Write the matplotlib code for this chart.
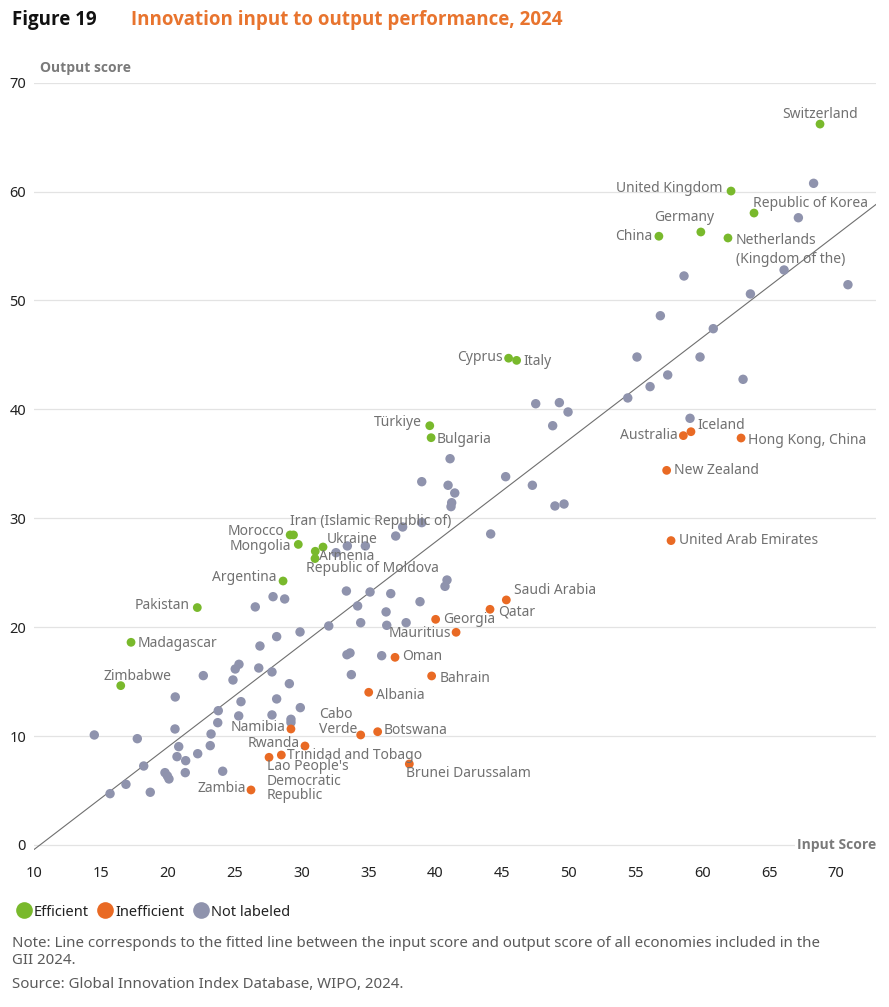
import matplotlib
matplotlib.use("Agg")
import matplotlib.pyplot as plt
from matplotlib.lines import Line2D

plt.rcParams['font.family'] = ['Noto Sans', 'DejaVu Sans']
BOLD_FAMILY = ['Open Sans', 'Lato', 'DejaVu Sans']

# ---------------- data ----------------
efficient_names = ["Switzerland", "United Kingdom", "Republic of Korea", "Germany", "China",
                   "Netherlands\n(Kingdom of the)", "Cyprus", "Italy", "Türkiye", "Bulgaria",
                   "Morocco", "Iran (Islamic Republic of)", "Mongolia", "Ukraine", "Armenia",
                   "Republic of Moldova", "Argentina", "Pakistan", "Madagascar", "Zimbabwe"]
efficient_input = [68.81, 62.15, 63.87, 59.89, 56.75, 61.92, 45.5, 46.1, 39.6, 39.7,
                   29.15, 29.4, 29.76, 31.61, 31.03, 31.01, 28.62, 22.2, 17.24, 16.47]
efficient_output = [66.2, 60.05, 58.03, 56.29, 55.9, 55.74, 44.7, 44.5, 38.5, 37.4,
                    28.47, 28.47, 27.6, 27.36, 26.97, 26.3, 24.24, 21.8, 18.61, 14.63]

inefficient_names = ["Iceland", "Australia", "Hong Kong, China", "New Zealand", "United Arab Emirates",
                     "Saudi Arabia", "Qatar", "Georgia", "Mauritius", "Oman", "Bahrain", "Albania",
                     "Botswana", "Cabo\nVerde", "Namibia", "Rwanda", "Trinidad and Tobago",
                     "Lao People's\nDemocratic\nRepublic", "Zambia", "Brunei Darussalam"]
inefficient_input = [59.15, 58.58, 62.9, 57.33, 57.66, 45.33, 44.11, 40.04, 41.57, 37.0, 39.74, 35.03,
                     35.7, 34.43, 29.21, 30.26, 28.49, 27.57, 26.22, 38.07]
inefficient_output = [37.95, 37.59, 37.37, 34.4, 27.95, 22.5, 21.64, 20.72, 19.53, 17.23, 15.52, 14.02,
                      10.4, 10.1, 10.65, 9.09, 8.26, 8.05, 5.05, 7.44]

other_input = [68.33, 67.19, 58.63, 66.12, 63.6, 70.9, 56.86, 60.82, 55.11, 59.83, 57.41, 56.09, 63.05,
               54.42, 49.3, 49.95, 59.08, 47.53, 48.8, 41.12, 39.0, 40.97, 41.47, 41.24, 41.19, 45.28,
               47.28, 48.97, 49.65, 37.57, 37.05, 39.0, 44.16, 40.89, 40.74, 36.68, 38.87, 36.33, 36.38,
               37.83, 33.43, 34.78, 32.58, 33.36, 35.13, 27.87, 28.74, 26.54, 34.2, 34.43, 32.04, 29.89,
               28.14, 26.89, 33.4, 33.63, 36.0, 25.32, 25.04, 26.8, 27.79, 22.65, 24.87, 29.09, 33.73,
               20.55, 25.47, 28.14, 29.91, 23.77, 25.3, 27.79, 29.21, 29.21, 23.73, 14.49, 17.71, 20.53,
               23.23, 20.81, 23.17, 22.23, 20.68, 21.33, 18.19, 19.78, 19.96, 20.08, 21.3, 24.1, 16.86,
               15.67, 18.68]
other_output = [60.76, 57.6, 52.25, 52.8, 50.6, 51.45, 48.6, 47.41, 44.81, 44.81, 43.16, 42.09, 42.76,
                41.05, 40.62, 39.76, 39.18, 40.52, 38.5, 35.47, 33.36, 33.03, 32.32, 31.43, 31.07, 33.82,
                33.03, 31.13, 31.31, 29.2, 28.37, 29.6, 28.56, 24.33, 23.75, 23.08, 22.34, 21.4, 20.17,
                20.41, 27.46, 27.46, 26.84, 23.32, 23.23, 22.8, 22.59, 21.86, 21.95, 20.41, 20.11, 19.56,
                19.13, 18.27, 17.47, 17.63, 17.38, 16.59, 16.16, 16.25, 15.89, 15.55, 15.15, 14.81, 15.64,
                13.59, 13.16, 13.41, 12.61, 12.33, 11.85, 11.94, 11.54, 11.25, 11.23, 10.1, 9.76, 10.65,
                10.19, 9.03, 9.12, 8.38, 8.11, 7.74, 7.25, 6.64, 6.34, 6.06, 6.64, 6.77, 5.57,
                4.71, 4.84]

fit_slope = 0.94
fit_intercept = -9.8

x_ticks = [10, 15, 20, 25, 30, 35, 40, 45, 50, 55, 60, 65, 70]
y_ticks = [0, 10, 20, 30, 40, 50, 60, 70]

# ---------------- styles ----------------
GREEN = "#79b92c"
ORANGE = "#e96a24"
GREY = "#8f93ad"
LABEL_C = "#717171"

# label placement: name -> (dx px, dy px, ha)
label_style = {
    "Switzerland": (0, 10, "center"),
    "United Kingdom": (-9, 3, "right"),
    "Republic of Korea": (-1, 10, "left"),
    "Germany": (-17, 14, "center"),
    "China": (-7, 0, "right"),
    "Netherlands\n(Kingdom of the)": (8, -12, "left"),
    "Cyprus": (-6, 1, "right"),
    "Italy": (7, -1, "left"),
    "Türkiye": (-8, 3, "right"),
    "Bulgaria": (6, -2, "left"),
    "Morocco": (-6, 3, "right"),
    "Iran (Islamic Republic of)": (-3, 13, "left"),
    "Mongolia": (-7, -2, "right"),
    "Ukraine": (4, 8, "left"),
    "Armenia": (4, -5, "left"),
    "Republic of Moldova": (-9, -10, "left"),
    "Argentina": (-7, 3, "right"),
    "Pakistan": (-8, 2, "right"),
    "Madagascar": (7, -1, "left"),
    "Zimbabwe": (17, 9, "center"),
    "Iceland": (6, 6, "left"),
    "Australia": (-6, 0, "right"),
    "Hong Kong, China": (7, -2, "left"),
    "New Zealand": (7, 0, "left"),
    "United Arab Emirates": (8, 0, "left"),
    "Saudi Arabia": (8, 9, "left"),
    "Qatar": (8, -3, "left"),
    "Georgia": (7, 0, "left"),
    "Mauritius": (-5, -1, "right"),
    "Oman": (7, 1, "left"),
    "Bahrain": (8, -3, "left"),
    "Albania": (7, -3, "left"),
    "Botswana": (6, 1, "left"),
    "Cabo\nVerde": (-3, 13, "right"),
    "Namibia": (-5, 1, "right"),
    "Rwanda": (-5, 2, "right"),
    "Trinidad and Tobago": (6, 0, "left"),
    "Lao People's\nDemocratic\nRepublic": (-2, -24, "left"),
    "Zambia": (-5, 1, "right"),
    "Brunei Darussalam": (-3, -10, "left"),
}
linespacing_style = {"Netherlands\n(Kingdom of the)": 1.35}

W, H = 889, 1007
fig = plt.figure(figsize=(W / 100, H / 100), dpi=100)
ax = fig.add_axes([34.3 / W, 1 - 850.4 / H, (876 - 34.3) / W, (850.4 - 82.7) / H])
ax.set_xlim(10, 73)
ax.set_ylim(-0.5, 70)
for s in ax.spines.values():
    s.set_visible(False)
ax.set_yticks(y_ticks)
ax.set_xticks(x_ticks)
ax.grid(axis="y", color="#e3e3e3", linewidth=0.9)
ax.set_axisbelow(True)
ax.tick_params(axis="both", length=0, labelsize=10.5, colors="#222222")
ax.tick_params(axis="y", pad=6)
ax.tick_params(axis="x", pad=11)

# fitted line
lx = [10, 73]
ly = [fit_slope * v + fit_intercept for v in lx]
ax.plot(lx, ly, color="#6f6f6f", linewidth=0.8, zorder=2)

ax.scatter(other_input, other_output, s=46, color=GREY, edgecolors="none", zorder=3)
ax.scatter(efficient_input, efficient_output, s=40, color=GREEN, edgecolors="none", zorder=4)
ax.scatter(inefficient_input, inefficient_output, s=40, color=ORANGE, edgecolors="none", zorder=4)

for names, xs, ys in [(efficient_names, efficient_input, efficient_output),
                      (inefficient_names, inefficient_input, inefficient_output)]:
    for n, xv, yv in zip(names, xs, ys):
        dx, dy, ha = label_style[n]
        ax.annotate(n, (xv, yv), xytext=(dx, dy), textcoords="offset pixels",
                    ha=ha, va="center", multialignment="left", fontsize=10, color=LABEL_C,
                    linespacing=linespacing_style.get(n, 0.95), zorder=5)

# axis titles
fig.text(40 / W, 1 - 68 / H, "Output score", fontsize=10, fontweight="bold", color="#7a7a7a",
         ha="left", va="center", family=BOLD_FAMILY)
ax.text(73, 0, "Input Score", fontsize=10, fontweight="bold", color="#7a7a7a", ha="right",
        va="center", zorder=6, family=BOLD_FAMILY,
        bbox=dict(facecolor="white", edgecolor="none", pad=1))

# title
fig.text(12 / W, 1 - 20 / H, "Figure 19", fontsize=13.5, fontweight="bold", color="#111111",
         ha="left", va="center", family=BOLD_FAMILY)
fig.text(131 / W, 1 - 20 / H, "Innovation input to output performance, 2024", fontsize=13.5,
         fontweight="bold", color="#e8742e", ha="left", va="center", family=BOLD_FAMILY)

# legend
handles = [Line2D([], [], marker="o", linestyle="none", markersize=12, markerfacecolor=c,
                  markeredgecolor="none", label=l)
           for c, l in [(GREEN, "Efficient"), (ORANGE, "Inefficient"), (GREY, "Not labeled")]]
fig.legend(handles=handles, loc="center left", bbox_to_anchor=(2 / W, 1 - 912 / H), ncol=3,
           frameon=False, handletextpad=0.1, columnspacing=0.5, handlelength=1.2,
           prop={"size": 10.5}, labelcolor="#222222")

fig.text(12 / W, 1 - 952 / H,
         "Note: Line corresponds to the fitted line between the input score and output score of all economies included in the\nGII 2024.",
         fontsize=10.8, color="#5a5a5a", ha="left", va="center", linespacing=1.2)
fig.text(12 / W, 1 - 985 / H, "Source: Global Innovation Index Database, WIPO, 2024.",
         fontsize=10.8, color="#5a5a5a", ha="left", va="center")

fig.savefig("out.png", dpi=100)
